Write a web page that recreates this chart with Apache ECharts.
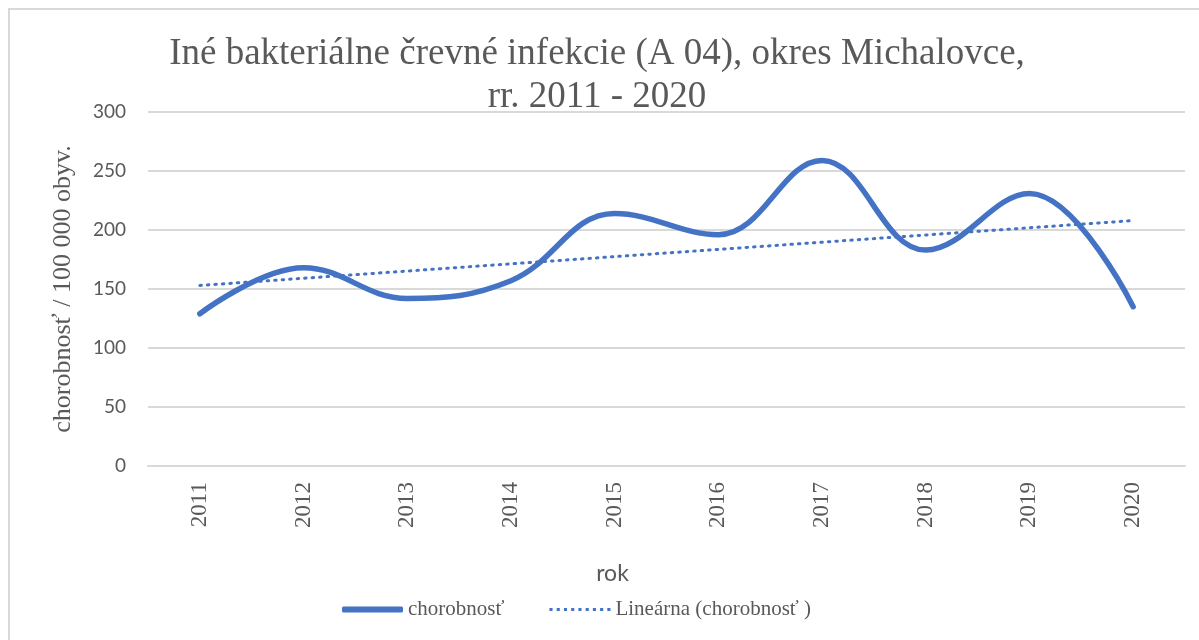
<!DOCTYPE html>
<html>
<head>
<meta charset="utf-8">
<script src="https://cdn.jsdelivr.net/npm/echarts@6/dist/echarts.min.js"></script>
<style>
  html, body { margin: 0; padding: 0; background: #fff; }
  #chart { width: 1199px; height: 640px; }
</style>
</head>
<body>
<div id="chart"></div>
<script>
// roky a chorobnosť (čítané z grafu)
var years = ['2011', '2012', '2013', '2014', '2015', '2016', '2017', '2018', '2019', '2020'];
var chorobnost = [129, 168, 142, 157, 214, 196, 259, 183, 231, 135];
// lineárny trend - koncové body odčítané z obrázka
var trendStart = 153;
var trendEnd = 208;
var yTicks = [0, 50, 100, 150, 200, 250, 300];

var serif = '"Liberation Serif", "Times New Roman", serif';
var sans = 'Lato, "Open Sans", sans-serif';
var blue = '#4472C4';

// bodkovaná ikona do legendy
var dotPath = 'path://';
for (var i = 0; i < 9; i++) {
  dotPath += 'M' + (i * 7) + ',0h3v3h-3z';
}

var chartDom = document.getElementById('chart');
var myChart = echarts.init(chartDom);

var option = {
  animation: false,
  backgroundColor: '#fff',
  graphic: [
    {
      type: 'rect',
      shape: { x: 9, y: 9, width: 1300, height: 700 },
      style: { fill: 'none', stroke: '#d9d9d9', lineWidth: 2 },
      silent: true
    }
  ],
  title: {
    text: 'Iné bakteriálne črevné infekcie (A 04), okres Michalovce,\nrr. 2011 - 2020',
    left: 592,
    textAlign: 'center',
    top: 28,
    textStyle: {
      fontFamily: serif,
      fontWeight: 'normal',
      fontSize: 37,
      lineHeight: 43,
      color: '#595959'
    }
  },
  legend: {
    bottom: 15,
    left: 337,
    itemWidth: 61,
    itemHeight: 6,
    itemGap: 45,
    textStyle: { fontFamily: serif, fontSize: 21, color: '#595959' },
    data: [
      { name: 'chorobnosť', icon: 'roundRect', itemStyle: { color: blue } },
      { name: 'Lineárna (chorobnosť )', icon: dotPath, itemStyle: { color: blue } }
    ]
  },
  grid: {
    left: 148,
    right: 14,
    top: 112,
    bottom: 174
  },
  xAxis: {
    type: 'category',
    data: years,
    boundaryGap: true,
    name: 'rok',
    nameLocation: 'middle',
    nameGap: 96,
    nameTextStyle: { fontFamily: sans, fontSize: 23, color: '#595959', padding: [0, 108, 0, 0] },
    axisLine: { show: true, lineStyle: { color: '#d9d9d9', width: 2 } },
    axisTick: { show: false },
    axisLabel: {
      rotate: 90,
      margin: 16,
      fontFamily: serif,
      fontSize: 23,
      color: '#595959'
    }
  },
  yAxis: {
    type: 'value',
    min: 0,
    max: 300,
    interval: 50,
    name: 'chorobnosť / 100 000 obyv.',
    nameLocation: 'middle',
    nameRotate: 90,
    nameGap: 72,
    nameTextStyle: { fontFamily: serif, fontSize: 26, color: '#595959' },
    axisLine: { show: false },
    axisTick: { show: false },
    axisLabel: {
      margin: 22,
      fontFamily: sans,
      fontSize: 19,
      color: '#595959',
      formatter: function (v) { return yTicks.indexOf(v) >= 0 ? String(v) : ''; }
    },
    splitLine: { lineStyle: { color: '#d9d9d9', width: 2 } }
  },
  series: [
    {
      name: 'chorobnosť',
      type: 'line',
      data: chorobnost,
      smooth: 0.4,
      symbol: 'none',
      lineStyle: { color: blue, width: 5.5, cap: 'round' },
      itemStyle: { color: blue },
      z: 3
    },
    {
      name: 'Lineárna (chorobnosť )',
      type: 'line',
      data: [[0, trendStart], [years.length - 1, trendEnd]],
      symbol: 'none',
      lineStyle: { color: blue, width: 3, type: [1.5, 6], cap: 'round' },
      itemStyle: { color: blue },
      z: 2
    }
  ]
};

option && myChart.setOption(option);
</script>
</body>
</html>
